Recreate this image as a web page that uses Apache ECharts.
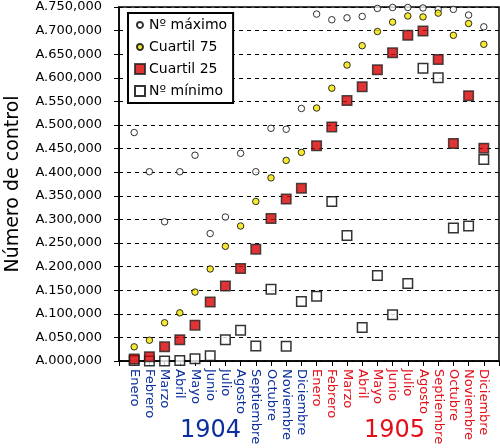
<!DOCTYPE html>
<html>
<head>
<meta charset="utf-8">
<script src="https://cdn.jsdelivr.net/npm/echarts@6/dist/echarts.min.js"></script>
<style>
  html, body { margin: 0; padding: 0; background: #fff; }
  #chart { width: 500px; height: 448px; }
</style>
</head>
<body>
<div id="chart"></div>
<script>
// months 1904 then 1905
var meses = ['Enero', 'Febrero', 'Marzo', 'Abril', 'Mayo', 'Junio', 'Julio', 'Agosto',
    'Septiembre', 'Octubre', 'Noviembre', 'Diciembre'];
var years = ['1904', '1905'];

// values in thousands (A.xxx,000)
var maximo = [484, 401, 295, 401, 436, 270, 305, 440, 401, 493, 491, 535,
    735, 723, 727, 730, 747, 749, 749, 748, 745, 745, 733, 708];
var cuartil75 = [30, 44, 81, 102, 146, 195, 243, 286, 338, 388, 425, 442,
    536, 578, 627, 668, 698, 718, 731, 729, 737, 690, 715, 671];
var cuartil25 = [4, 9, 30, 45, 76, 125, 159, 196, 237, 302, 343, 366,
    456, 496, 552, 581, 617, 653, 690, 699, 639, 461, 562, 451];
var minimo = [1, 0, 0, 1, 5, 11, 45, 65, 32, 152, 31, 126,
    137, 338, 266, 71, 181, 98, 164, 620, 600, 282, 286, 427];

var BLUE = '#0b2f9c';
var RED = '#e3101a';

function pts(arr) {
    return arr.map(function (v, i) { return [i + 1, v]; });
}

// small circle inside a 10x10 box (the M points keep the box size)
var smallCircle = 'path://M0,0M10,10M5,2A3,3,0,1,1,4.99,2Z';

var chart = echarts.init(document.getElementById('chart'));
chart.setOption({
    animation: false,
    textStyle: { fontFamily: 'DejaVu Sans' },
    grid: {
        left: 119, right: 1, top: 7, bottom: 87, outerBoundsMode: 'none',
        show: true, borderColor: '#000', borderWidth: 1.5
    },
    legend: {
        left: 128, top: 13, orient: 'vertical',
        backgroundColor: '#fff', borderColor: '#000', borderWidth: 2,
        padding: [5, 6, 5, 6], itemGap: 8, itemWidth: 10, itemHeight: 10,
        textStyle: { fontSize: 14, color: '#000', padding: [0, 0, 0, -1] },
        data: [
            { name: 'Nº máximo', icon: smallCircle },
            { name: 'Cuartil 75', icon: smallCircle },
            { name: 'Cuartil 25' },
            { name: 'Nº mínimo' }
        ]
    },
    xAxis: {
        type: 'value', min: 0, max: 25, interval: 1,
        splitLine: { show: false },
        axisLine: { lineStyle: { color: '#000', width: 1.5 } },
        axisTick: { show: true, length: 5, lineStyle: { color: '#000' } },
        axisLabel: {
            rotate: -90, margin: 8, fontSize: 13,
            formatter: function (v) {
                if (v < 1 || v > 24) return '';
                var m = meses[(v - 1) % 12];
                return v <= 12 ? '{a|' + m + '}' : '{b|' + m + '}';
            },
            rich: {
                a: { color: BLUE, fontSize: 13 },
                b: { color: RED, fontSize: 13 }
            }
        }
    },
    yAxis: {
        type: 'value', min: 0, max: 750, interval: 50,
        name: 'Número de control', nameLocation: 'middle', nameGap: 96,
        nameTextStyle: { fontSize: 19, color: '#000' },
        axisLine: { show: true, lineStyle: { color: '#000', width: 1.5 } },
        axisTick: { show: true, length: 5, lineStyle: { color: '#000' } },
        axisLabel: {
            color: '#000', fontSize: 13, margin: 17,
            formatter: function (v) {
                return 'A.' + String(v).padStart(3, '0') + ',000';
            }
        },
        splitLine: { lineStyle: { color: '#000', type: [4, 4], width: 1 } }
    },
    graphic: [
        { type: 'text', left: 180, top: 419, style: { text: years[0], fontSize: 24, fill: BLUE, fontFamily: 'DejaVu Sans' } },
        { type: 'text', left: 364, top: 419, style: { text: years[1], fontSize: 24, fill: RED, fontFamily: 'DejaVu Sans' } }
    ],
    series: [
        {
            name: 'Nº máximo', type: 'scatter', data: pts(maximo), z: 3,
            symbol: 'circle', symbolSize: 6.5,
            itemStyle: { color: '#fff', borderColor: '#000', borderWidth: 1 }
        },
        {
            name: 'Cuartil 75', type: 'scatter', data: pts(cuartil75), z: 3,
            symbol: 'circle', symbolSize: 6.5,
            itemStyle: { color: '#f5e400', borderColor: '#000', borderWidth: 1 }
        },
        {
            name: 'Nº mínimo', type: 'scatter', data: pts(minimo), z: 3,
            symbol: 'rect', symbolSize: 9.5,
            itemStyle: { color: '#fff', borderColor: '#000', borderWidth: 1.5 }
        },
        {
            name: 'Cuartil 25', type: 'scatter', data: pts(cuartil25), z: 4,
            symbol: 'rect', symbolSize: 9.5,
            itemStyle: { color: '#d80000', borderColor: '#222', borderWidth: 1.5 }
        }
    ]
});
</script>
</body>
</html>
